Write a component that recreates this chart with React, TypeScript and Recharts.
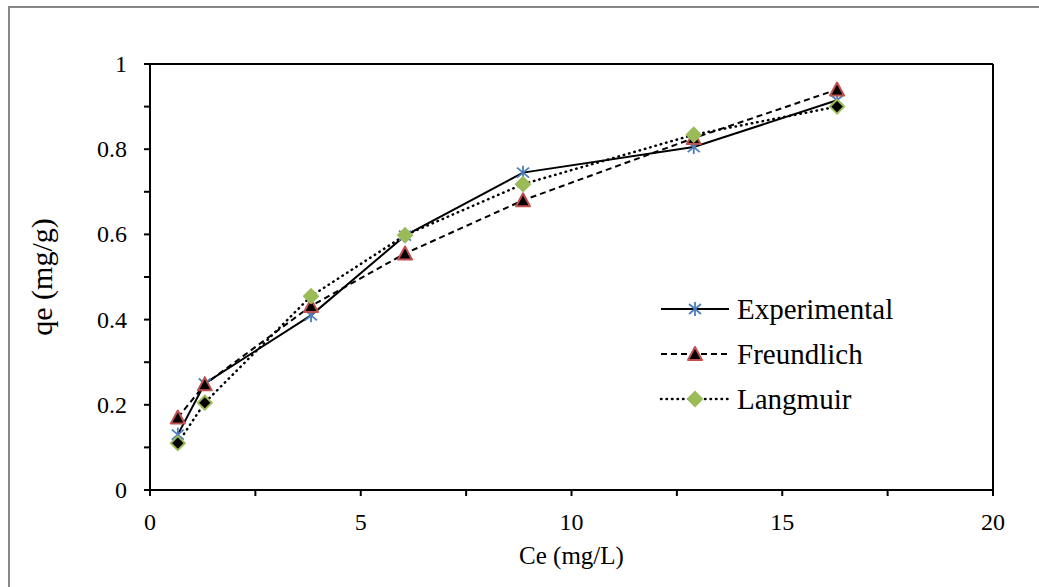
import { LineChart, Line, XAxis, YAxis, ReferenceLine } from "recharts";

const ceValues = [0.66, 1.3, 3.82, 6.05, 8.85, 12.9, 16.3];
const experimental = [0.13, 0.25, 0.41, 0.597, 0.745, 0.805, 0.915];
const freundlich = [0.17, 0.248, 0.432, 0.555, 0.68, 0.826, 0.94];
const langmuir = [0.11, 0.205, 0.455, 0.598, 0.718, 0.834, 0.9];
const xTicks = [0, 2.5, 5, 7.5, 10, 12.5, 15, 17.5, 20];
const yTicks = [0, 0.1, 0.2, 0.3, 0.4, 0.5, 0.6, 0.7, 0.8, 0.9, 1];

const data = ceValues.map((ce, i) => ({
  ce,
  experimental: experimental[i],
  freundlich: freundlich[i],
  langmuir: langmuir[i],
}));

const FONT = "Liberation Serif, DejaVu Serif, serif";
const BLUE = "#4a7ebb";
const RED = "#c0504d";
const GREEN = "#9bbb59";

function Asterisk({ cx, cy }: { cx: number; cy: number }) {
  return (
    <g stroke={BLUE} strokeWidth={1.8}>
      <line x1={cx} y1={cy - 7} x2={cx} y2={cy + 7} />
      <line x1={cx - 6} y1={cy - 5} x2={cx + 6} y2={cy + 5} />
      <line x1={cx - 6} y1={cy + 5} x2={cx + 6} y2={cy - 5} />
    </g>
  );
}

function Triangle({ cx, cy }: { cx: number; cy: number }) {
  return (
    <path
      d={`M${cx},${cy - 7} L${cx + 7},${cy + 6} L${cx - 7},${cy + 6} Z`}
      fill="#000"
      stroke={RED}
      strokeWidth={2}
      strokeLinejoin="round"
    />
  );
}

function Diamond({ cx, cy, dark }: { cx: number; cy: number; dark?: boolean }) {
  return (
    <path
      d={`M${cx},${cy - 7} L${cx + 7},${cy} L${cx},${cy + 7} L${cx - 7},${cy} Z`}
      fill={dark ? "#000" : GREEN}
      stroke={GREEN}
      strokeWidth={2}
    />
  );
}

const darkDiamonds = [0, 1, 6];

function XTick(props: any) {
  const { x, payload } = props;
  const v = payload.value;
  return (
    <g>
      <line x1={x} y1={490} x2={x} y2={496} stroke="#000" strokeWidth={2} />
      {v % 5 === 0 && (
        <text x={x} y={530} textAnchor="middle" style={{ fontFamily: FONT }} fontSize={24} fill="#000">
          {v}
        </text>
      )}
    </g>
  );
}

function YTick(props: any) {
  const { y, payload } = props;
  const v = payload.value;
  const major = Math.round(v * 10) % 2 === 0;
  return (
    <g>
      <line x1={144} y1={y} x2={150} y2={y} stroke="#000" strokeWidth={2} />
      {major && (
        <text x={127} y={y + 8} textAnchor="end" style={{ fontFamily: FONT }} fontSize={24} fill="#000">
          {Number(v.toFixed(1))}
        </text>
      )}
    </g>
  );
}

const legendItems = [
  { label: "Experimental", dash: undefined, marker: "asterisk" },
  { label: "Freundlich", dash: "6 4", marker: "triangle" },
  { label: "Langmuir", dash: "0.5 5", marker: "diamond" },
];

function LegendBox() {
  return (
    <div style={{ fontFamily: FONT, fontSize: 29, color: "#000" }}>
      {legendItems.map((item) => (
        <div key={item.label} style={{ display: "flex", alignItems: "center", height: 45 }}>
          <svg width={80} height={30} style={{ display: "block" }}>
            <line
              x1={6}
              y1={15}
              x2={74}
              y2={15}
              stroke="#000"
              strokeWidth={item.marker === "diamond" ? 2.5 : 2}
              strokeDasharray={item.dash}
              strokeLinecap={item.marker === "diamond" ? "round" : "butt"}
            />
            {item.marker === "asterisk" && <Asterisk cx={40} cy={15} />}
            {item.marker === "triangle" && <Triangle cx={40} cy={15} />}
            {item.marker === "diamond" && <Diamond cx={40} cy={15} />}
          </svg>
          <span style={{ marginLeft: 2, lineHeight: "30px" }}>{item.label}</span>
        </div>
      ))}
    </div>
  );
}

export default function App() {
  return (
    <div style={{ position: "fixed", left: 0, top: 0, width: 1039, height: 587, background: "#fff", overflow: "hidden", fontFamily: FONT }}>
      <div
        style={{
          position: "absolute",
          left: 8,
          top: 6,
          width: 1100,
          height: 700,
          borderLeft: "2px solid #878787",
          borderTop: "2px solid #878787",
        }}
      />
      <div style={{ position: "absolute", left: 0, top: 0 }}>
        <LineChart
          width={1039}
          height={587}
          data={data}
          margin={{ top: 64, right: 46, bottom: 37, left: 0 }}
          style={{ fontFamily: FONT }}
        >
          <XAxis
            dataKey="ce"
            type="number"
            domain={[0, 20]}
            ticks={xTicks}
            interval={0}
            stroke="#000"
            strokeWidth={2}
            tickLine={false}
            tick={<XTick />}
            height={60}
            label={{ value: "Ce (mg/L)", position: "insideBottom", offset: 0, dy: 14, fontSize: 25, fill: "#000", style: { fontFamily: FONT } }}
          />
          <YAxis
            type="number"
            domain={[0, 1]}
            ticks={yTicks}
            interval={0}
            width={150}
            stroke="#000"
            strokeWidth={2}
            tickLine={false}
            tick={<YTick />}
            label={{ value: "qe (mg/g)", angle: -90, position: "insideLeft", dx: 36, dy: 0, fontSize: 30, fill: "#000", style: { textAnchor: "middle", fontFamily: FONT } }}
          />
          <ReferenceLine y={1} stroke="#000" strokeWidth={2} />
          <ReferenceLine x={20} stroke="#000" strokeWidth={2} />
          <Line
            dataKey="experimental"
            stroke="#000"
            strokeWidth={2}
            dot={(p: any) => <Asterisk key={p.index} cx={p.cx} cy={p.cy} />}
            activeDot={false}
            isAnimationActive={false}
          />
          <Line
            dataKey="freundlich"
            stroke="#000"
            strokeWidth={2}
            strokeDasharray="6 4"
            dot={(p: any) => <Triangle key={p.index} cx={p.cx} cy={p.cy} />}
            activeDot={false}
            isAnimationActive={false}
          />
          <Line
            dataKey="langmuir"
            stroke="#000"
            strokeWidth={2.5}
            strokeDasharray="0.5 5"
            strokeLinecap="round"
            dot={(p: any) => <Diamond key={p.index} cx={p.cx} cy={p.cy} dark={darkDiamonds.includes(p.index)} />}
            activeDot={false}
            isAnimationActive={false}
          />
        </LineChart>
      </div>
      <div style={{ position: "absolute", left: 655, top: 286 }}>
        <LegendBox />
      </div>
    </div>
  );
}
